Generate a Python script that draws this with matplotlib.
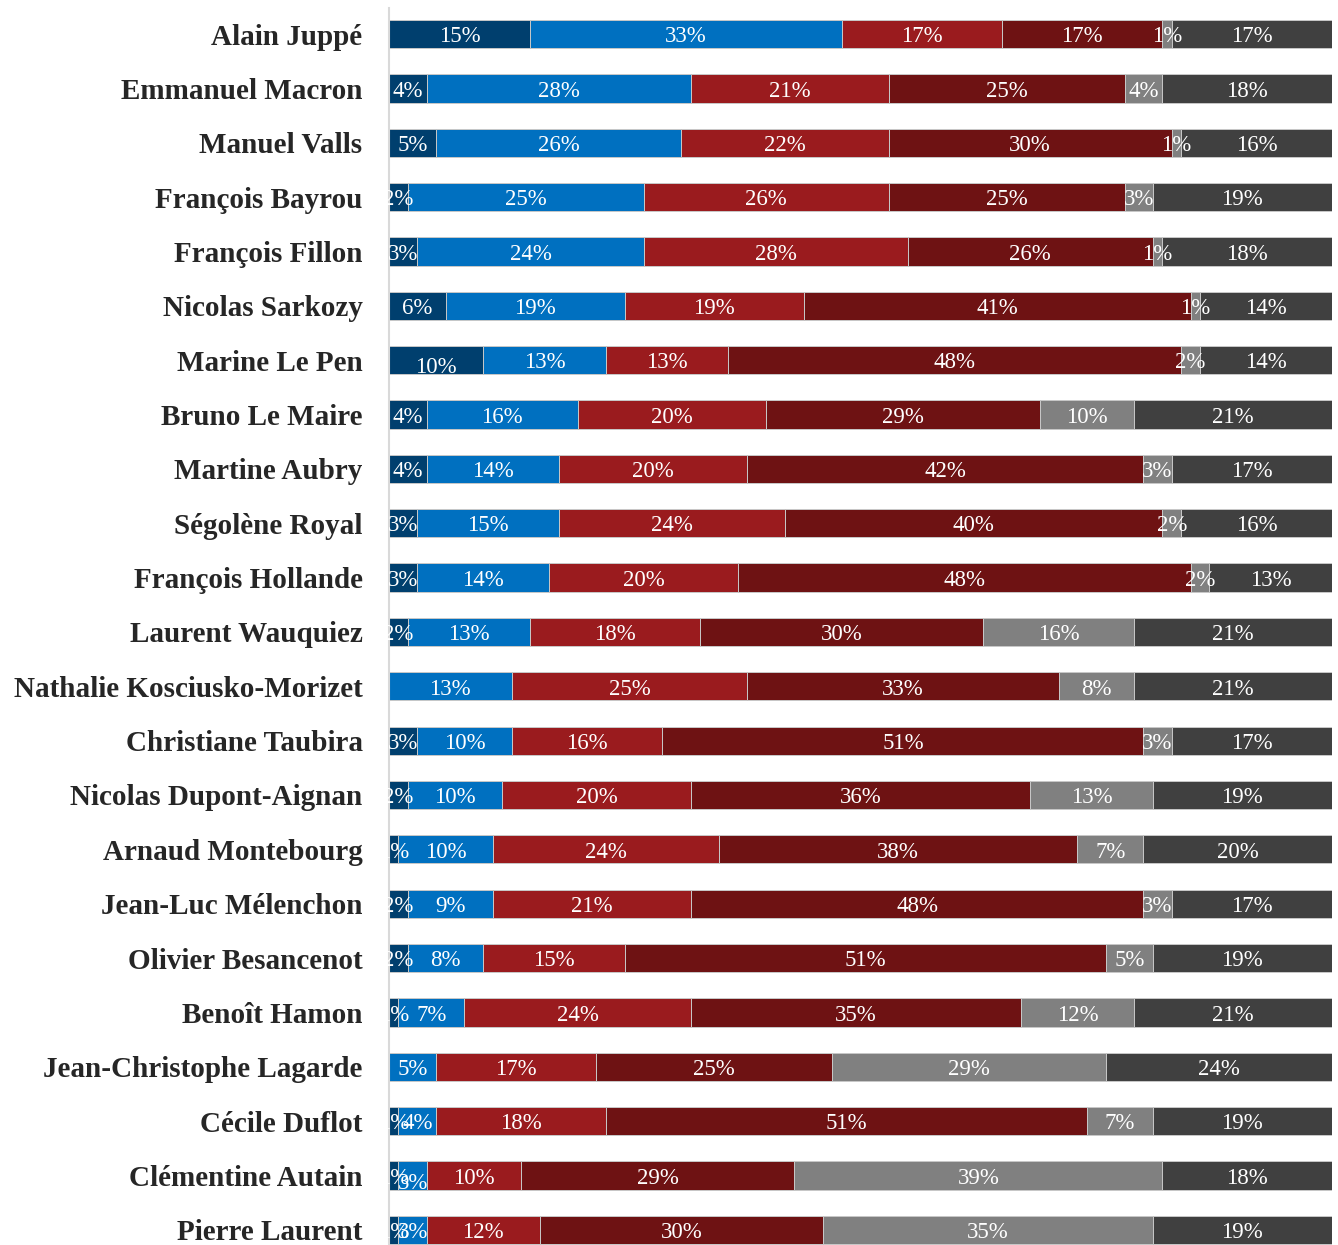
import matplotlib.pyplot as plt
import numpy as np

# candidates, top to bottom
names = ["Alain Juppé", "Emmanuel Macron", "Manuel Valls", "François Bayrou",
         "François Fillon", "Nicolas Sarkozy", "Marine Le Pen", "Bruno Le Maire",
         "Martine Aubry", "Ségolène Royal", "François Hollande", "Laurent Wauquiez",
         "Nathalie Kosciusko-Morizet", "Christiane Taubira", "Nicolas Dupont-Aignan",
         "Arnaud Montebourg", "Jean-Luc Mélenchon", "Olivier Besancenot",
         "Benoît Hamon", "Jean-Christophe Lagarde", "Cécile Duflot",
         "Clémentine Autain", "Pierre Laurent"]

# shares (%) per answer, one list per segment
very_good = [15, 4, 5, 2, 3, 6, 10, 4, 4, 3, 3, 2, 0, 3, 2, 1, 2, 2, 1, 0, 1, 1, 1]
good = [33, 28, 26, 25, 24, 19, 13, 16, 14, 15, 14, 13, 13, 10, 10, 10, 9, 8, 7, 5, 4, 3, 3]
bad = [17, 21, 22, 26, 28, 19, 13, 20, 20, 24, 20, 18, 25, 16, 20, 24, 21, 15, 24, 17, 18, 10, 12]
very_bad = [17, 25, 30, 25, 26, 41, 48, 29, 42, 40, 48, 30, 33, 51, 36, 38, 48, 51, 35, 25, 51, 29, 30]
unknown = [1, 4, 1, 3, 1, 1, 2, 10, 3, 2, 2, 16, 8, 3, 13, 7, 3, 5, 12, 29, 7, 39, 35]
no_answer = [17, 18, 16, 19, 18, 14, 14, 21, 17, 16, 13, 21, 21, 17, 19, 20, 17, 19, 21, 24, 19, 18, 19]

series = [very_good, good, bad, very_bad, unknown, no_answer]
colors = ["#003f6e", "#0070c0", "#9a1b1e", "#6e1213", "#808080", "#404040"]

# a couple of labels are pushed down in the original to avoid overlaps
nudge = {(6, 0): 0.09, (21, 1): 0.09}

fig = plt.figure(figsize=(13.38, 12.45), dpi=100)
ax = fig.add_axes([389 / 1338, 0, 943 / 1338, 1 - 8 / 1245])

y = np.arange(len(names))
left = np.zeros(len(names))
for k, (vals, c) in enumerate(zip(series, colors)):
    vals = np.array(vals, dtype=float)
    ax.barh(y, vals, left=left, height=0.52, color=c,
            edgecolor="#c8c8c8", linewidth=0.7)
    for i, v in enumerate(vals):
        if v > 0:
            ax.text(left[i] + v / 2, y[i] + 0.05 + nudge.get((i, k), 0),
                    f"{int(v)}%", ha="center", va="center", color="white",
                    fontsize=16.5, family="Liberation Serif")
    left += vals

ax.set_xlim(0, 100)
ax.set_ylim(22.28, -0.48)
ax.set_yticks(y)
ax.set_yticklabels(names, fontsize=21, fontweight="bold",
                   family="Liberation Serif", color="#262626")
ax.tick_params(axis="y", length=0, pad=19)
ax.set_xticks([])
for s in ["top", "right", "bottom"]:
    ax.spines[s].set_visible(False)
ax.spines["left"].set_color("#d9d9d9")
ax.spines["left"].set_linewidth(1.5)

fig.savefig("out.png", dpi=100)
